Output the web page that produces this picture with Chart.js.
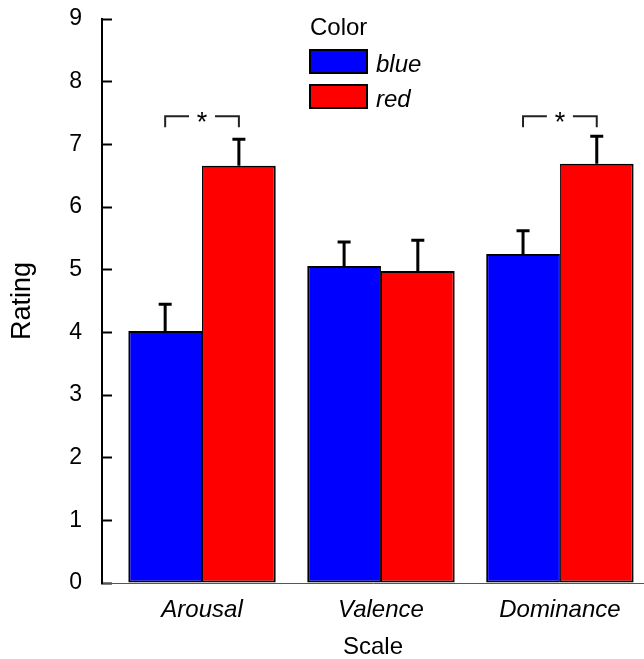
<!DOCTYPE html>
<html><head><meta charset="utf-8">
<script src="https://cdn.jsdelivr.net/npm/chart.js@4/dist/chart.umd.min.js"></script>
<style>html,body{margin:0;padding:0;background:#fff;overflow:hidden}</style>
</head><body>
<canvas id="c" width="644" height="659"></canvas>
<script>
// ---- data ----
const categories = ['Arousal', 'Valence', 'Dominance'];
const seriesNames = ['blue', 'red'];
const blueMeans = [4.02, 5.06, 5.25];
const blueErrors = [0.43, 0.38, 0.37];
const redMeans = [6.66, 4.98, 6.69];
const redErrors = [0.42, 0.49, 0.44];
const yTickValues = [0, 1, 2, 3, 4, 5, 6, 7, 8, 9];
const significantCategories = ['Arousal', 'Dominance'];
const bracketLevel = 7.45;

const FONT = "'Liberation Sans', Arial, sans-serif";

const overlay = {
  id: 'overlay',
  afterDatasetsDraw(chart) {
    const ctx = chart.ctx;
    const y = chart.scales.y;
    // error bars (upper)
    chart.data.datasets.forEach((ds, di) => {
      const meta = chart.getDatasetMeta(di);
      meta.data.forEach((bar, i) => {
        const top = y.getPixelForValue(ds.data[i].y + ds.errors[i]);
        ctx.save();
        ctx.strokeStyle = '#000';
        ctx.lineWidth = 3;
        ctx.beginPath();
        ctx.moveTo(bar.x, bar.y);
        ctx.lineTo(bar.x, top);
        ctx.moveTo(bar.x - 6.5, top);
        ctx.lineTo(bar.x + 6.5, top);
        ctx.stroke();
        ctx.restore();
      });
    });
    // significance brackets
    const m0 = chart.getDatasetMeta(0), m1 = chart.getDatasetMeta(1);
    significantCategories.forEach(cat => {
      const i = categories.indexOf(cat);
      const xl = m0.data[i].x, xr = m1.data[i].x;
      const xc = (xl + xr) / 2;
      const yt = y.getPixelForValue(bracketLevel);
      ctx.save();
      ctx.strokeStyle = '#222';
      ctx.lineWidth = 2;
      ctx.beginPath();
      ctx.moveTo(xl, yt + 11); ctx.lineTo(xl, yt); ctx.lineTo(xc - 13, yt);
      ctx.moveTo(xc + 13, yt); ctx.lineTo(xr, yt); ctx.lineTo(xr, yt + 11);
      ctx.stroke();
      ctx.fillStyle = '#000';
      ctx.font = '27px ' + FONT;
      ctx.textAlign = 'center';
      ctx.textBaseline = 'alphabetic';
      ctx.fillText('*', xc, yt + 15);
      ctx.restore();
    });
  },
  afterDraw(chart) {
    const ctx = chart.ctx;
    ctx.save();
    ctx.fillStyle = '#000';
    ctx.textBaseline = 'alphabetic';
    ctx.textAlign = 'left';
    ctx.font = '24px ' + FONT;
    ctx.fillText('Color', 310, 35);
    const boxY = [50, 85];
    const textY = [72, 107];
    chart.data.datasets.forEach((ds, di) => {
      ctx.fillStyle = ds.backgroundColor;
      ctx.fillRect(310, boxY[di], 57, 23);
      ctx.strokeStyle = '#000';
      ctx.lineWidth = 2;
      ctx.strokeRect(310, boxY[di], 57, 23);
      ctx.fillStyle = '#000';
      ctx.font = 'italic 24px ' + FONT;
      ctx.fillText(ds.label, 376, textY[di]);
    });
    ctx.restore();
  }
};

new Chart(document.getElementById('c'), {
  type: 'bar',
  data: {
    datasets: [
      {
        label: seriesNames[0],
        data: blueMeans.map((v, i) => ({ x: i, y: v })),
        errors: blueErrors,
        backgroundColor: '#0000ff',
        borderColor: '#000',
        borderWidth: { top: 2, left: 2, right: 1, bottom: 2 },
        borderSkipped: false
      },
      {
        label: seriesNames[1],
        data: redMeans.map((v, i) => ({ x: i, y: v })),
        errors: redErrors,
        backgroundColor: '#ff0000',
        borderColor: '#000',
        borderWidth: { top: 2, left: 1, right: 2, bottom: 2 },
        borderSkipped: false
      }
    ]
  },
  options: {
    responsive: false,
    animation: false,
    devicePixelRatio: 1,
    categoryPercentage: 0.824,
    barPercentage: 1,
    layout: { padding: { top: 19, left: 0, right: 0, bottom: 0 } },
    plugins: { legend: { display: false }, tooltip: { enabled: false } },
    scales: {
      x: {
        type: 'linear',
        offset: false,
        min: -0.559,
        max: 2.47,
        afterBuildTicks: s => { s.ticks = categories.map((c, i) => ({ value: i })); },
        afterFit: s => { s.height = 76; s.paddingLeft = 0; s.paddingRight = 0; },
        grid: { display: false, drawTicks: false },
        border: { display: true, color: '#555', width: 1 },
        ticks: {
          callback: v => categories[v] ?? '',
          color: '#000',
          font: { family: FONT, size: 24, style: 'italic' },
          padding: 13,
          maxRotation: 0,
          autoSkip: false
        },
        title: {
          display: true, text: 'Scale', color: '#000',
          font: { family: FONT, size: 24 },
          padding: { top: 0, bottom: -3 }
        }
      },
      y: {
        min: 0,
        max: 9,
        afterBuildTicks: s => { s.ticks = yTickValues.map(v => ({ value: v })); },
        afterFit: s => { s.width = 102; s.paddingTop = 0; s.paddingBottom = 0; },
        grid: { drawOnChartArea: false, drawTicks: true, tickLength: -10, tickWidth: 2, tickColor: '#000' },
        border: { display: true, color: '#000', width: 2 },
        ticks: {
          color: '#000',
          font: { family: FONT, size: 23 },
          padding: 30
        },
        title: {
          display: true, text: 'Rating', color: '#000',
          font: { family: FONT, size: 27 },
          padding: { top: 6, bottom: 0 }
        }
      }
    }
  },
  plugins: [overlay]
});
</script>
</body></html>
